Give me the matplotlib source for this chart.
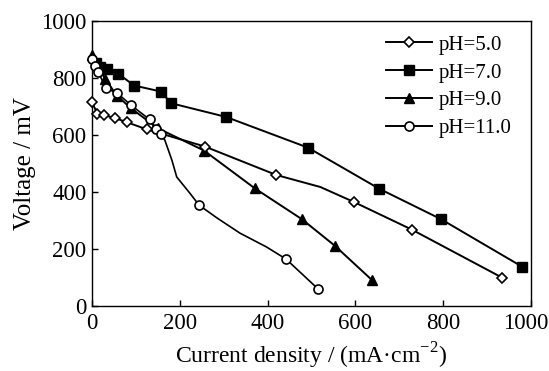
import matplotlib.pyplot as plt
import matplotlib.transforms as mtransforms

plt.rcParams['font.family'] = ['Liberation Serif', 'DejaVu Serif']
plt.rcParams['mathtext.fontset'] = 'custom'
plt.rcParams['mathtext.rm'] = 'Liberation Serif'

# pH = 5.0 (open diamonds)
ph5_x = [0, 12, 27, 52, 80, 125, 257, 420, 597, 729, 934]
ph5_y = [716, 675, 670, 660, 645, 620, 560, 460, 365, 268, 100]
ph5_line_x = [0, 12, 27, 52, 80, 125, 257, 420, 520, 597, 729, 934]
ph5_line_y = [716, 675, 670, 660, 645, 620, 560, 460, 418, 365, 268, 100]

# pH = 7.0 (filled squares)
ph7_x = [8, 18, 35, 60, 96, 157, 180, 305, 492, 654, 795, 980]
ph7_y = [852, 840, 832, 815, 774, 753, 712, 664, 556, 412, 305, 138]

# pH = 9.0 (filled triangles)
ph9_x = [0, 30, 57, 89, 150, 255, 371, 478, 553, 638]
ph9_y = [880, 797, 738, 694, 624, 546, 413, 305, 212, 91]

# pH = 11.0 (open circles)
ph11_x = [0, 7, 14, 32, 57, 89, 131, 145, 157, 244, 442, 515]
ph11_y = [866, 843, 822, 764, 748, 705, 655, 620, 603, 354, 165, 60]
ph11_line_x = [0, 7, 14, 32, 57, 89, 131, 145, 157, 166, 182, 193, 223, 244,
               285, 337, 398, 442, 515]
ph11_line_y = [866, 843, 822, 764, 748, 705, 655, 620, 603, 582, 512, 453, 396, 354,
               309, 256, 207, 165, 60]

fig = plt.figure(figsize=(5.49, 3.71), dpi=100)
ax = fig.add_axes([0.1676, 0.175, 0.7996, 0.768])

lw = 1.4
ax.plot(ph5_line_x, ph5_line_y, color='black', lw=lw)
ax.plot(ph5_x, ph5_y, ls='none', marker='D', ms=5, mfc='white', mec='black', mew=1.2,
        clip_on=False, zorder=4)
ax.plot(ph7_x, ph7_y, color='black', lw=lw, marker='s', ms=7, mfc='black', mec='black',
        clip_on=False, zorder=3)
ax.plot(ph9_x, ph9_y, color='black', lw=lw, marker='^', ms=7, mfc='black', mec='black',
        clip_on=False, zorder=3)
ax.plot(ph11_line_x, ph11_line_y, color='black', lw=1.2)
ax.plot(ph11_x, ph11_y, ls='none', marker='o', ms=6.5, mfc='white', mec='black', mew=1.2,
        clip_on=False, zorder=4)

# legend proxies
h5, = ax.plot([], [], color='black', lw=lw, marker='D', ms=5, mfc='white', mec='black', mew=1.2)
h7, = ax.plot([], [], color='black', lw=lw, marker='s', ms=7, mfc='black', mec='black')
h9, = ax.plot([], [], color='black', lw=lw, marker='^', ms=7, mfc='black', mec='black')
h11, = ax.plot([], [], color='black', lw=lw, marker='o', ms=6.5, mfc='white', mec='black', mew=1.2)
ax.legend([h5, h7, h9, h11], ['pH=5.0', 'pH=7.0', 'pH=9.0', 'pH=11.0'],
          loc='upper right', bbox_to_anchor=(0.985, 0.995), frameon=False,
          fontsize=15, handlelength=2.2, labelspacing=0.4, handletextpad=0.35,
          borderaxespad=0.2)

ax.set_xlim(0, 1000)
ax.set_ylim(0, 1000)
ax.set_xticks([0, 200, 400, 600, 800, 1000])
ax.set_yticks([0, 200, 400, 600, 800, 1000])
ax.tick_params(direction='in', length=4, width=1, labelsize=16.5)
ax.tick_params(axis='x', pad=5)
ax.tick_params(axis='y', pad=4)
for s in ax.spines.values():
    s.set_linewidth(1.0)

# keep the last x tick label inside the figure
last = ax.get_xticklabels()[-1]
last.set_transform(last.get_transform() +
                   mtransforms.ScaledTranslation(-5 / 100, 0, fig.dpi_scale_trans))

ax.set_xlabel('Current density / (mA·cm$^{-2}$)', fontsize=17, labelpad=5)
ax.set_ylabel('Voltage / mV', fontsize=18, labelpad=4)

fig.savefig('out.png', dpi=100)
